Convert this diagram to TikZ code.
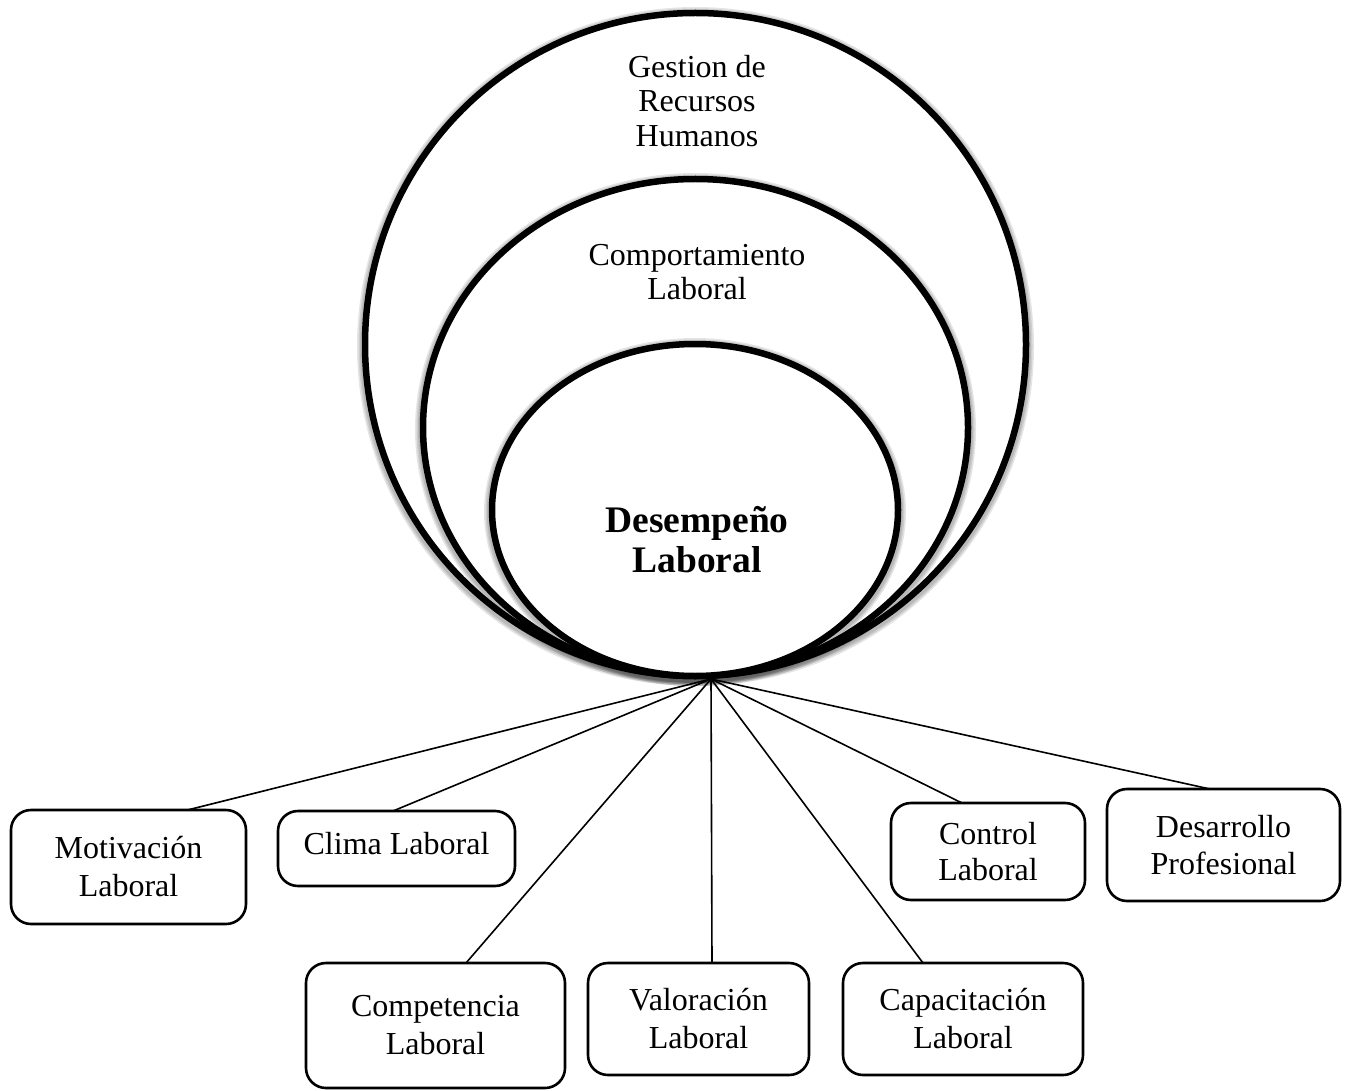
\documentclass[tikz,border=0pt]{standalone}
\usepackage{fontspec}
\setmainfont{Liberation Serif}
\begin{document}
\begin{tikzpicture}[x=1pt,y=-1pt,
  ring/.style={draw=black, line width=6.5pt, fill=white},
  ringshade/.style={draw=black, opacity=0.1},
  ringtext/.style={align=center, font=\fontsize{32}{34.5}\selectfont, inner sep=0pt},
  coretext/.style={align=center, font=\bfseries\fontsize{37.5}{40}\selectfont, inner sep=0pt},
  topic/.style={draw=black, line width=2.6pt, rounded corners=20pt, align=center,
    inner sep=0pt, outer sep=0pt, font=\fontsize{32}{38}\selectfont},
  link/.style={draw=black, line width=1.6pt}]
\useasboundingbox (0,0) rectangle (1349,1091);

% meeting point of all connectors, under the rings
\coordinate (hub) at (711,679);

% topic boxes
\node[topic, minimum width=235pt, minimum height=114pt] (mot)  at (128.5,867)  {Motivación\\Laboral};
\node[topic, minimum width=237pt, minimum height=75pt, text depth=11pt] (clima) at (396.5,848.5) {Clima Laboral};
\node[topic, minimum width=259pt, minimum height=125pt] (compe) at (435.5,1025.5) {Competencia\\Laboral};
\node[topic, minimum width=221pt, minimum height=112pt] (valor) at (698.5,1019)  {Valoración\\Laboral};
\node[topic, minimum width=240pt, minimum height=112pt] (capac) at (963,1019)    {Capacitación\\Laboral};
\node[topic, minimum width=194pt, minimum height=97pt,  font=\fontsize{32}{36}\selectfont] (contr) at (988,851.5) {Control\\Laboral};
\node[topic, minimum width=233pt, minimum height=112pt, font=\fontsize{32}{37}\selectfont] (desar) at (1223.5,845) {Desarrollo\\Profesional};

% connectors fanning out from the hub
\draw[link] (hub) -- ([xshift=59pt]mot.north);
\draw[link] (hub) -- ([xshift=-3.5pt]clima.north);
\draw[link] (hub) -- ([xshift=30.5pt]compe.north);
\draw[link] (hub) -- ([xshift=13.5pt]valor.north);
\draw[link] (hub) -- ([xshift=-40pt]capac.north);
\draw[link] (hub) -- ([xshift=-26pt]contr.north);
\draw[link] (hub) -- ([xshift=-13.5pt]desar.north);

% nested rings, each with a soft shadow
\foreach \w in {16,13,10}
  \draw[ringshade, line width=\w pt, yshift=-2pt] (695.5,344.5) ellipse [x radius=330.5pt, y radius=331.5pt];
\draw[ring] (695.5,344.5) ellipse [x radius=330.5pt, y radius=331.5pt];

\foreach \w in {16,13,10}
  \draw[ringshade, line width=\w pt, yshift=-2pt] (695.5,427.5) ellipse [x radius=272.5pt, y radius=248.5pt];
\draw[ring] (695.5,427.5) ellipse [x radius=272.5pt, y radius=248.5pt];

\foreach \w in {16,13,10}
  \draw[ringshade, line width=\w pt, yshift=-2pt] (695,510) ellipse [x radius=203pt, y radius=166pt];
\draw[ring] (695,510) ellipse [x radius=203pt, y radius=166pt];

% ring labels
\node[ringtext] (gest) at (697,101) {Gestion de\\Recursos\\Humanos};
\node[ringtext] (comp) at (697,272) {Comportamiento\\Laboral};
\node[coretext] (des)  at (697,540) {Desempeño\\Laboral};
\end{tikzpicture}
\end{document}
